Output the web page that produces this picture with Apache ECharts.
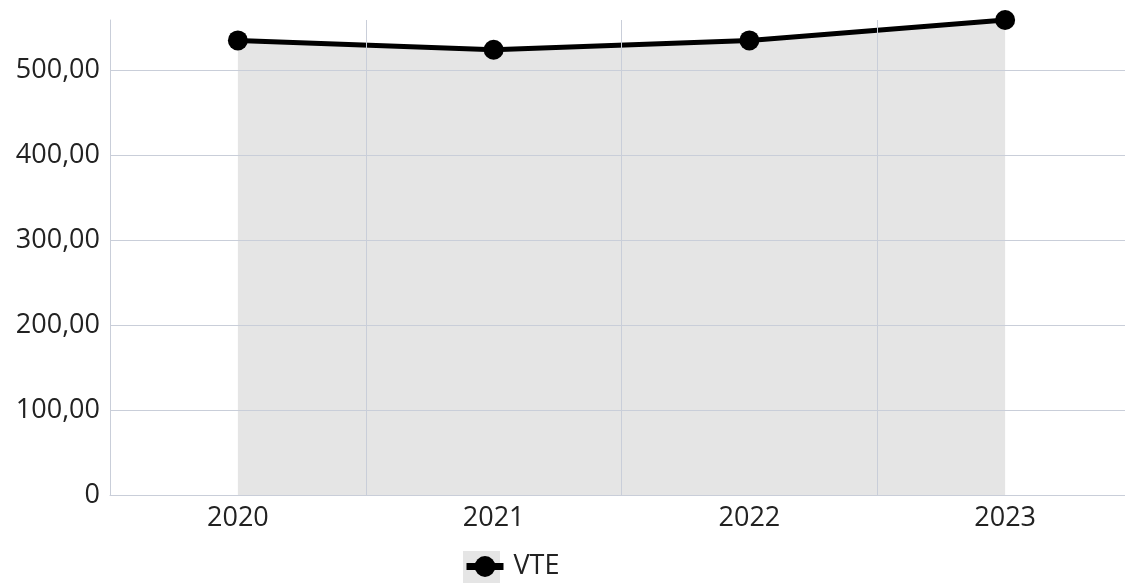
<!DOCTYPE html>
<html>
<head>
<meta charset="utf-8">
<script src="https://cdn.jsdelivr.net/npm/echarts@6/dist/echarts.min.js"></script>
<style>
  html, body { margin: 0; padding: 0; background: #ffffff; }
  #chart { width: 1125px; height: 583px; }
</style>
</head>
<body>
<div id="chart"></div>
<script>
// Yearly VTE values
const years = ['2020', '2021', '2022', '2023'];
const vteValues = [535, 524, 535, 559];
const seriesName = 'VTE';

const chart = echarts.init(document.getElementById('chart'), null, { renderer: 'canvas' });

const fontFamily = '"Open Sans", "Noto Sans", sans-serif';
const gridColor = '#c9ced9';
const areaColor = '#e5e5e5';

chart.setOption({
  animation: false,
  backgroundColor: '#ffffff',
  grid: { left: 110, top: 20, bottom: 88, right: -8, outerBoundsMode: 'none', containLabel: false },
  xAxis: {
    type: 'category',
    data: years,
    boundaryGap: true,
    z: 3,
    axisLine: { show: true, lineStyle: { color: gridColor, width: 1 } },
    axisTick: { show: false },
    splitLine: { show: true, lineStyle: { color: gridColor, width: 1 } },
    axisLabel: { color: '#222222', fontSize: 27, fontFamily: fontFamily, margin: 10 }
  },
  yAxis: {
    type: 'value',
    min: 0,
    max: 'dataMax',
    interval: 100,
    z: 3,
    axisLine: { show: true, lineStyle: { color: gridColor, width: 1 } },
    axisTick: { show: false },
    splitLine: { show: true, showMaxLine: false, lineStyle: { color: gridColor, width: 1 } },
    axisLabel: {
      color: '#222222',
      fontSize: 27,
      fontFamily: fontFamily,
      margin: 10,
      showMaxLabel: false,
      formatter: function (v) {
        return v === 0 ? '0' : v.toFixed(2).replace('.', ',');
      }
    }
  },
  // light box behind the legend swatch
  graphic: [{
    type: 'rect',
    left: 463,
    top: 551,
    shape: { width: 37, height: 34 },
    style: { fill: areaColor },
    z: 0,
    silent: true
  }],
  legend: {
    top: 553,
    left: 463,
    padding: 0,
    itemWidth: 37,
    itemHeight: 26,
    itemGap: 10,
    lineStyle: { width: 7 },
    textStyle: { color: '#222222', fontSize: 27, fontFamily: fontFamily, padding: [0, 0, 0, 5] },
    data: [seriesName]
  },
  series: [{
    name: seriesName,
    type: 'line',
    data: vteValues,
    z: 2,
    symbol: 'circle',
    symbolSize: 20,
    lineStyle: { color: '#000000', width: 5 },
    itemStyle: { color: '#000000' },
    areaStyle: { color: areaColor, opacity: 1 }
  }]
});
</script>
</body>
</html>
